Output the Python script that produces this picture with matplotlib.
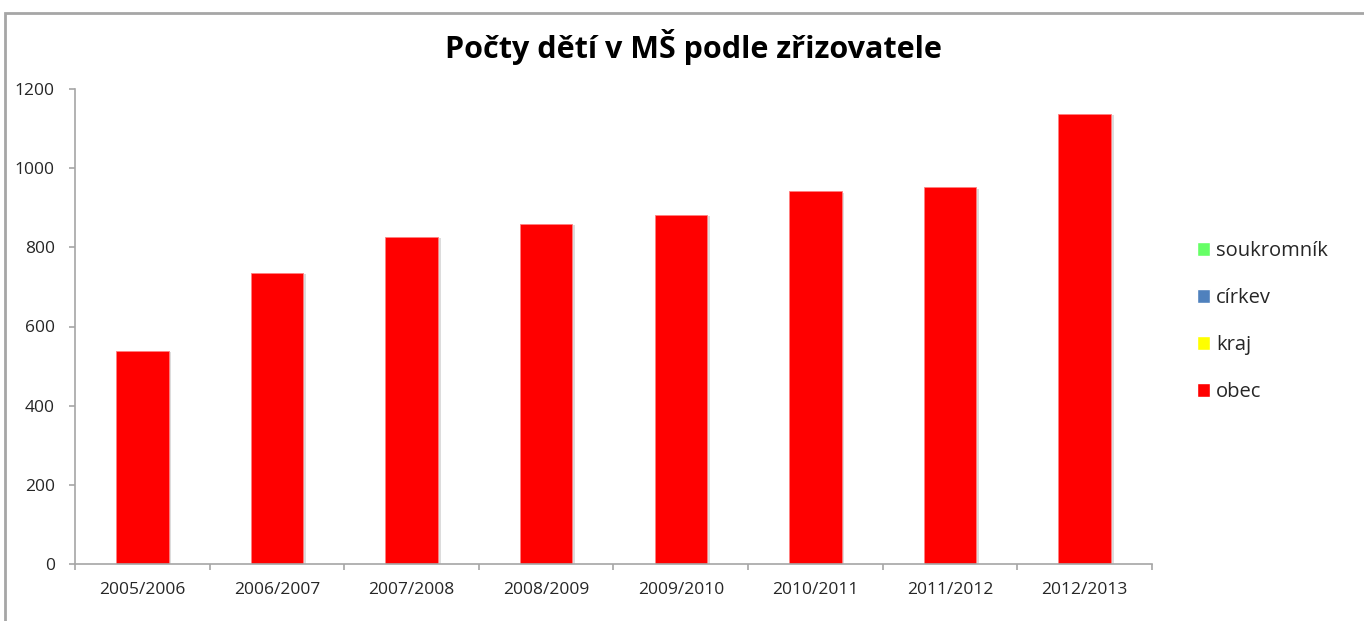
import matplotlib
matplotlib.use("Agg")
import matplotlib.pyplot as plt
import matplotlib.patheffects as pe
from matplotlib.patches import Rectangle, Patch
import numpy as np

plt.rcParams['font.family'] = ['Open Sans', 'DejaVu Sans']

years = ["2005/2006", "2006/2007", "2007/2008", "2008/2009",
         "2009/2010", "2010/2011", "2011/2012", "2012/2013"]
obec = [538, 735, 826, 859, 882, 942, 952, 1137]
kraj = [0, 0, 0, 0, 0, 0, 0, 0]
cirkev = [0, 0, 0, 0, 0, 0, 0, 0]
soukromnik = [0, 0, 0, 0, 0, 0, 0, 0]

series = [("obec", obec, "#ff0000"), ("kraj", kraj, "#ffff00"),
          ("církev", cirkev, "#4f81bd"), ("soukromník", soukromnik, "#66ff66")]

fig = plt.figure(figsize=(13.64, 6.21), dpi=100)
W, H = 1364, 621
ax = fig.add_axes([75 / W, 1 - 564 / H, (1152 - 75) / W, (564 - 89) / H])

# chart area frame
fig.patches.append(Rectangle((5 / W, -0.1), 1.2, 1 - 13 / H + 0.1, transform=fig.transFigure,
                             fill=False, edgecolor="#a6a6a6", linewidth=2))

x = np.arange(len(years))
bottom = np.zeros(len(years))
for name, vals, col in series:
    vals = np.array(vals)
    if vals.sum() > 0:
        ax.bar(x, vals, width=0.39, bottom=bottom, color=col, edgecolor="#ff8080", linewidth=0.6,
               path_effects=[pe.SimplePatchShadow(offset=(2, -1), shadow_rgbFace="#bbbbbb", alpha=0.5),
                             pe.Normal()])
    bottom = bottom + vals

ax.set_xlim(-0.5, len(years) - 0.5)
ax.set_ylim(0, 1200)
ax.set_yticks(range(0, 1201, 200))
ax.set_xticks(x)
ax.set_xticklabels(years)
ax.set_xticks(np.arange(-0.5, len(years)), minor=True)
ax.tick_params(axis='x', which='major', length=0, pad=13, labelsize=12.5, labelcolor="#262626")
ax.tick_params(axis='x', which='minor', length=4.5, color="#a6a6a6", width=1.2)
ax.tick_params(axis='y', length=4.5, color="#a6a6a6", width=1.2, pad=10, labelsize=12.5,
               labelcolor="#262626")
for s in ["top", "right"]:
    ax.spines[s].set_visible(False)
for s in ["left", "bottom"]:
    ax.spines[s].set_color("#a6a6a6")
    ax.spines[s].set_linewidth(1.2)

fig.text(693 / W, 1 - 47 / H, "Počty dětí v MŠ podle zřizovatele", ha="center", va="center",
         fontsize=22, fontweight="bold", color="black")

handles = [Patch(facecolor=c, edgecolor="white") for _, _, c in series[::-1]]
labels = [n for n, _, _ in series[::-1]]
fig.legend(handles, labels, loc="upper left", bbox_to_anchor=(1179 / W, 1 - 223 / H),
           frameon=False, fontsize=14.5, handlelength=0.65, handleheight=0.65,
           handletextpad=0.3, labelspacing=1.34, labelcolor="#262626")

fig.savefig("out.png", dpi=100)
